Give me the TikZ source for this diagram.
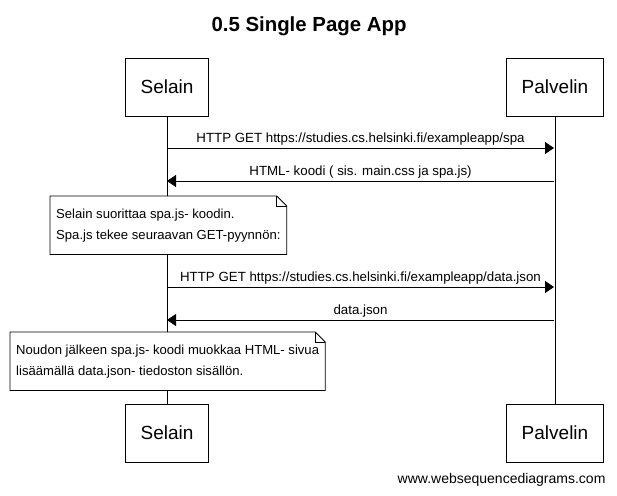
\documentclass[tikz,border=0pt]{standalone}
\usepackage{fontspec}
\setmainfont{Liberation Sans}
\usepackage{tikz}
\usetikzlibrary{arrows.meta,calc,positioning}
\tikzset{
  >={Triangle[length=9pt,width=12pt]},
  every picture/.style={line join=miter},
  actor/.style={draw=black, line width=0.8pt, fill=white, minimum height=58pt,
    inner xsep=15pt, font=\fontsize{19}{19}\selectfont},
  msg/.style={black, line width=0.8pt, ->},
  msglbl/.style={font=\fontsize{13.3}{13.3}\selectfont, above=1pt, inner sep=1pt},
  lifeline/.style={black, line width=0.8pt},
  notebox/.style={fill=white, inner xsep=6pt, inner ysep=0pt, minimum height=58pt,
    align=left, anchor=north west, font=\fontsize{13.1}{21}\selectfont},
}

\begin{document}
\begin{tikzpicture}[x=1pt, y=-1pt]
\useasboundingbox[fill=white] (0,0) rectangle (617,495);
\node[font=\fontsize{20.4}{20.4}\selectfont\bfseries] (title) at (309,26) {0.5 Single Page App};
% participants
\node[actor] (selT) at (167,87) {Selain};
\node[actor] (palT) at (555,87) {Palvelin};
\node[actor] (selB) at (167,433) {Selain};
\node[actor] (palB) at (555,433) {Palvelin};
\draw[lifeline] (selT) -- (selB);
\draw[lifeline] (palT) -- (palB);
\foreach \y [count=\k] in {148,181,287,320} {
  \coordinate (s\k) at (167,\y);
  \coordinate (p\k) at (554,\y);
}
% messages
\draw[msg] (s1) -- node[msglbl] {HTTP GET https://studies.cs.helsinki.fi/exampleapp/spa} (p1);
\draw[msg] (p2) -- node[msglbl] {HTML- koodi ( sis. main.css ja spa.js)} (s2);
\draw[msg] (s3) -- node[msglbl] {HTTP GET https://studies.cs.helsinki.fi/exampleapp/data.json} (p3);
\draw[msg] (p4) -- node[msglbl] {data.json} (s4);
% notes
\node[notebox, minimum width=235pt] (note1) at (50,196)
  {Selain suorittaa spa.js- koodin.\\Spa.js tekee seuraavan GET-pyynnön:};
\node[notebox, minimum width=314pt] (note2) at (10,332)
  {Noudon jälkeen spa.js- koodi muokkaa HTML- sivua\\lisäämällä data.json- tiedoston sisällön.};
\foreach \n in {note1,note2} {
  \draw[line width=0.8pt] (\n.north west) -- ([xshift=-10pt]\n.north east)
    -- ([yshift=-10pt]\n.north east) -- (\n.south east) -- (\n.south west) -- cycle;
  \draw[line width=0.8pt] ([xshift=-10pt]\n.north east) -- ([xshift=-10pt,yshift=-10pt]\n.north east)
    -- ([yshift=-10pt]\n.north east);
}
\node[font=\fontsize{14}{14}\selectfont, anchor=east] (wsd) at (609,480) {www.websequencediagrams.com};
\end{tikzpicture}
\end{document}
